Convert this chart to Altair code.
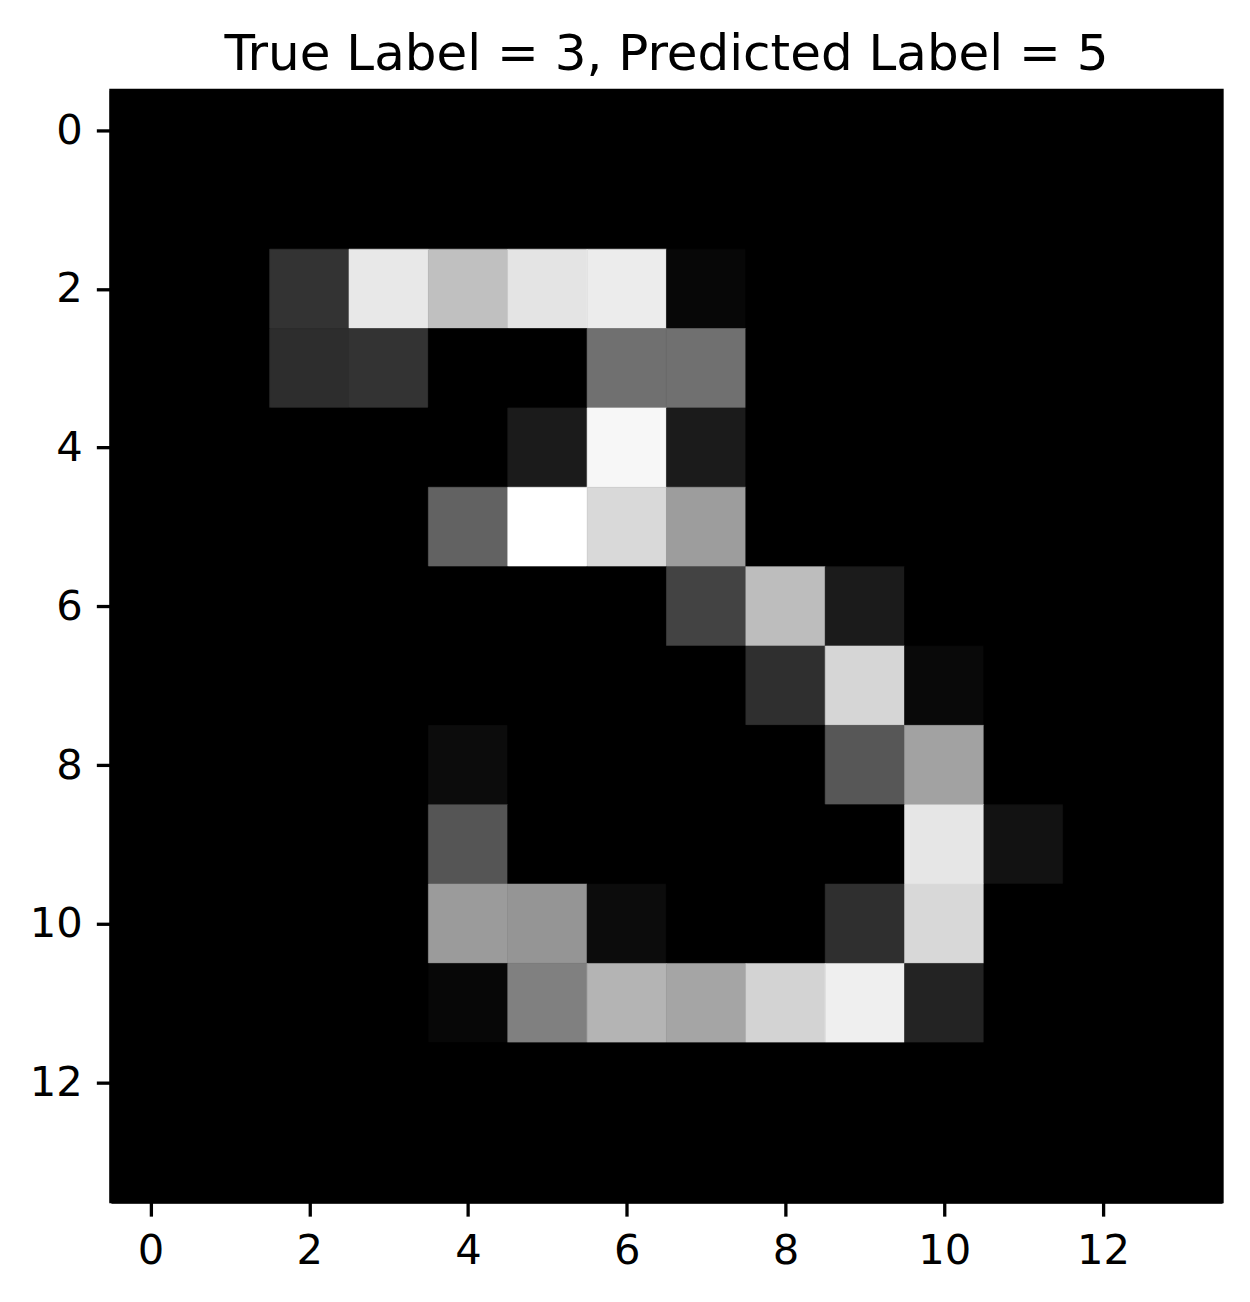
import altair as alt
import pandas as pd

# pixel intensities (0-255), one list per image row
row0 = [0, 0, 0, 0, 0, 0, 0, 0, 0, 0, 0, 0, 0, 0]
row1 = [0, 0, 0, 0, 0, 0, 0, 0, 0, 0, 0, 0, 0, 0]
row2 = [0, 0, 51, 232, 192, 228, 236, 7, 0, 0, 0, 0, 0, 0]
row3 = [0, 0, 45, 51, 0, 0, 112, 112, 0, 0, 0, 0, 0, 0]
row4 = [0, 0, 0, 0, 0, 27, 247, 27, 0, 0, 0, 0, 0, 0]
row5 = [0, 0, 0, 0, 98, 255, 217, 157, 0, 0, 0, 0, 0, 0]
row6 = [0, 0, 0, 0, 0, 0, 0, 67, 189, 27, 0, 0, 0, 0]
row7 = [0, 0, 0, 0, 0, 0, 0, 0, 47, 214, 9, 0, 0, 0]
row8 = [0, 0, 0, 0, 12, 0, 0, 0, 0, 87, 162, 0, 0, 0]
row9 = [0, 0, 0, 0, 85, 0, 0, 0, 0, 0, 230, 18, 0, 0]
row10 = [0, 0, 0, 0, 155, 149, 12, 0, 0, 47, 216, 0, 0, 0]
row11 = [0, 0, 0, 0, 7, 128, 180, 165, 211, 239, 35, 0, 0, 0]
row12 = [0, 0, 0, 0, 0, 0, 0, 0, 0, 0, 0, 0, 0, 0]
row13 = [0, 0, 0, 0, 0, 0, 0, 0, 0, 0, 0, 0, 0, 0]

rows = [row0, row1, row2, row3, row4, row5, row6, row7,
        row8, row9, row10, row11, row12, row13]
tick_values = [0, 2, 4, 6, 8, 10, 12]

records = []
for r, vals in enumerate(rows):
    for c, v in enumerate(vals):
        records.append({'row': r, 'col': c, 'v': v})
df = pd.DataFrame(records)

FONT = 'DejaVu Sans'

gray = alt.Scale(domain=[0, 255], range=['#000000', '#ffffff'], interpolate='rgb')
pos = [-0.5, 13.5]

axis_common = dict(
    values=tick_values, grid=False, labelFont=FONT, labelFontSize=41.7,
    labelColor='black', tickColor='black', tickSize=14.6, tickWidth=3.3,
    domainColor='black', domainWidth=3.3, labelPadding=14, title=None
)

img = alt.Chart(df).transform_calculate(
    x0='datum.col - 0.5', x1='datum.col + 0.5',
    y0='datum.row - 0.5', y1='datum.row + 0.5'
).mark_rect(strokeWidth=0.6).encode(
    x=alt.X('x0:Q', scale=alt.Scale(domain=pos, nice=False, zero=False),
            axis=alt.Axis(**axis_common)),
    x2='x1:Q',
    y=alt.Y('y0:Q', scale=alt.Scale(domain=pos, nice=False, zero=False, reverse=True),
            axis=alt.Axis(**axis_common)),
    y2='y1:Q',
    color=alt.Color('v:Q', scale=gray, legend=None),
    stroke=alt.Stroke('v:Q', scale=gray, legend=None)
).properties(
    width=1112,
    height=1112,
    autosize=alt.AutoSizeParams(type='none'),
    padding={'left': 103, 'top': 82, 'right': 20, 'bottom': 90},
    title=alt.Title('True Label = 3, Predicted Label = 5', font=FONT, fontSize=50,
                    fontWeight='normal', color='black', anchor='middle',
                    frame='group', baseline='alphabetic', offset=-30)
)

chart = img.configure_view(fill='black', stroke='black', strokeWidth=3.3)

chart.save("out.html", embed_options={"renderer": "svg", "actions": False})
